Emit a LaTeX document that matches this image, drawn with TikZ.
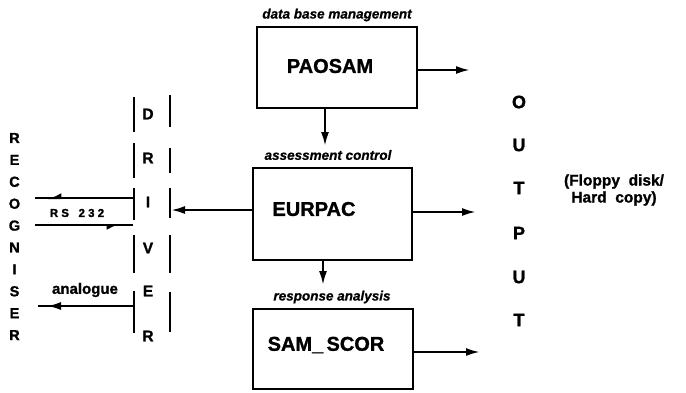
\documentclass[tikz,border=0pt]{standalone}
\usepackage{fontspec}
\setmainfont{Liberation Sans}[BoldFeatures={FakeBold=1.2},BoldItalicFeatures={FakeBold=0.8}]
\usetikzlibrary{arrows.meta}
\begin{document}
\begin{tikzpicture}[x=1pt,y=-1pt,line width=2.2pt,
  box/.style={draw,line width=2.5pt,inner sep=0pt},
  boxlabel/.style={font=\fontsize{20}{24}\selectfont\bfseries,inner sep=0pt},
  role/.style={font=\fontsize{13.5}{16}\selectfont\bfseries\itshape,inner sep=0pt},
  vletter/.style={font=\fontsize{15.5}{18}\selectfont\bfseries,inner sep=0pt},
  rletter/.style={font=\fontsize{14.5}{16}\selectfont\bfseries,inner sep=0pt},
  oletter/.style={font=\fontsize{18}{20}\selectfont\bfseries,inner sep=0pt},
  arr/.style={-{Latex[length=14pt,width=8pt]},line width=2.2pt},
  harp/.style={-{Latex[right,length=11pt,width=10pt]},line width=2pt},
  bar/.style={line width=2.5pt}]
\useasboundingbox (0,0) rectangle (686,392);

% boxes
\node[box,minimum width=160pt,minimum height=81pt] (pao) at (337,67.5) {};
\node[box,minimum width=159pt,minimum height=92pt] (eur) at (332.5,214) {};
\node[box,minimum width=160pt,minimum height=80pt] (sam) at (333,349) {};
\node[boxlabel] (paot) at (330,66) {PAOSAM};
\node[boxlabel] (eurt) at (314,209) {EURPAC};
\node[boxlabel] (samt) at (326,345) {SAM\_\,SCOR};

% role labels
\node[role] (r1) at (337,15) {data base management};
\node[role] (r2) at (328,155) {assessment control};
\node[role] (r3) at (332,297) {response analysis};

% outputs
\coordinate (o1) at (470,70);
\coordinate (o2) at (476,212);
\coordinate (o3) at (480,352);
\draw[arr] (pao.east |- o1) -- (o1);
\draw[arr] (eur.east |- o2) -- (o2);
\draw[arr] (sam.east |- o3) -- (o3);

% downward
\coordinate (d1) at (325,146);
\coordinate (d2) at (323,285);
\draw[arr] (pao.south -| d1) -- (d1);
\draw[arr] (eur.south -| d2) -- (d2);

% driver bars
\foreach \a/\b in {97/132,143/178,188/220,235/273,291/333}
  \draw[bar] (134,\a) -- (134,\b);
\foreach \a/\b in {95/127,148/173,188/218,235/273,292/332}
  \draw[bar] (170,\a) -- (170,\b);
\foreach \l/\y in {D/114,R/158,I/202,V/248,E/291,R/336}
  \node[vletter] at (148,\y) {\l};

% EURPAC to driver
\coordinate (dr) at (171,210);
\draw[arr] (eur.west |- dr) -- (dr);

% RS 232
\coordinate (rsA) at (134,198);
\coordinate (rsAt) at (47,198);
\coordinate (rsAe) at (35,198);
\coordinate (rsB) at (35,225);
\coordinate (rsBt) at (121,225);
\coordinate (rsBe) at (133,225);
\draw[line width=2pt] (rsA) -- (rsAe);
\draw[harp] (rsA) -- (rsAt);
\draw[line width=2pt] (rsB) -- (rsBe);
\draw[harp] (rsB) -- (rsBt);
\node[font=\fontsize{11.5}{13}\selectfont\bfseries,inner sep=0pt] (rs) at (77,213) {R S\ \ \ 2 3 2};

% analogue
\coordinate (anA) at (134,306);
\coordinate (anT) at (47,306);
\coordinate (anE) at (38,306);
\draw[line width=2.2pt] (anA) -- (anE);
\draw[arr] (anA) -- (anT);
\node[font=\fontsize{15}{17}\selectfont\bfseries,inner sep=0pt] (an) at (85,290) {analogue};

% RECOGNISER
\foreach \l [count=\i from 0] in {R,E,C,O,G,N,I,S,E,R}
  \node[rletter] at (14.5,138+21.9*\i) {\l};

% OUTPUT
\foreach \l/\y in {O/102,U/145,T/188,P/233,U/277,T/320}
  \node[oletter] at (519,\y) {\l};

\node[font=\fontsize{15.5}{17}\selectfont\bfseries,align=center,inner sep=0pt] (fl) at (614,190) {(Floppy\ \ disk/\\Hard\ \ copy)};
\end{tikzpicture}
\end{document}
